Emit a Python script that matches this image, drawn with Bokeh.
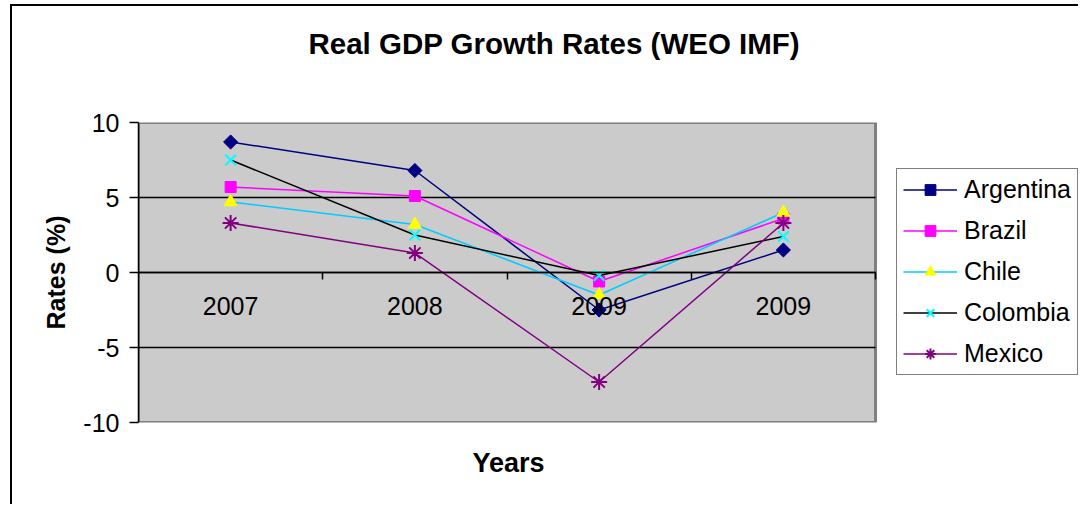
from bokeh.plotting import figure
from bokeh.models import (Range1d, FixedTicker, LinearAxis, Legend, LegendItem,
                          Title, ColumnDataSource)
from bokeh.embed import file_html
from bokeh.resources import INLINE

# ---------------- data ----------------
title_text = "Real GDP Growth Rates (WEO IMF)"
x_title = "Years"
y_title = "Rates (%)"
years = ["2007", "2008", "2009", "2009"]
argentina = [8.7, 6.8, -2.5, 1.5]
brazil = [5.7, 5.1, -0.6, 3.6]
chile = [4.7, 3.2, -1.5, 4.0]
colombia = [7.5, 2.5, -0.2, 2.4]
mexico = [3.3, 1.3, -7.3, 3.3]
y_ticks = [-10, -5, 0, 5, 10]
y_min, y_max = -10, 10

series = [
    # name, values, line colour, marker, fill, marker line, size, marker lw, angle
    ("Argentina", argentina, "#000080", "square", "#000080", "#000080", 10, 1, 0.785398),
    ("Brazil", brazil, "#FF00FF", "square", "#FF00FF", "#FF00FF", 11, 1, 0),
    ("Chile", chile, "#00CCFF", "triangle", "#FFFF00", "#FFFF00", 13, 1, 0),
    ("Colombia", colombia, "#000000", "x", None, "#00FFFF", 15, 2, 0),
    ("Mexico", mexico, "#800080", "asterisk", None, "#800080", 16, 2, 0),
]

n = len(years)
x_pos = [i + 0.5 for i in range(n)]
bounds = [i + 1 for i in range(n)]

FONT = "Liberation Sans"

# frame spans from the y axis to the right edge; the grey plot area is 737 px wide
FRAME_W, AREA_W = 942, 737
x_end = n * FRAME_W / AREA_W

p = figure(width=1068, height=500, output_backend="svg", toolbar_location=None,
           x_range=Range1d(0, x_end), y_range=Range1d(y_min, y_max),
           x_axis_location=None,
           min_border_left=126, min_border_right=0, min_border_top=116,
           min_border_bottom=84)
p.margin = (4, 0, 0, 10)
p.styles = {"border-top": "2px solid black", "border-left": "2px solid black"}

p.background_fill_color = "white"
p.border_fill_color = "white"
p.outline_line_color = None

# grey plot area
p.quad(left=0, right=n, bottom=y_min, top=y_max, fill_color="#CBCBCB",
       line_color="#808080", line_width=3, level="image")

# y axis
p.yaxis.bounds = (y_min, y_max)
p.yaxis.ticker = FixedTicker(ticks=y_ticks)
p.yaxis.major_label_overrides = {t: str(t) for t in y_ticks}
p.yaxis.axis_line_color = "black"
p.yaxis.axis_line_width = 1.5
p.yaxis.major_tick_line_color = "black"
p.yaxis.major_tick_line_width = 1.5
p.yaxis.major_tick_out = 9
p.yaxis.major_tick_in = 0
p.yaxis.minor_tick_line_color = None
p.yaxis.major_label_standoff = 10
p.yaxis.major_label_text_font = FONT
p.yaxis.major_label_text_font_size = "25px"
p.yaxis.major_label_text_color = "black"
p.yaxis.axis_label = y_title
p.yaxis.axis_label_text_font = FONT
p.yaxis.axis_label_text_font_size = "25px"
p.yaxis.axis_label_text_font_style = "bold"
p.yaxis.axis_label_text_color = "black"
p.yaxis.axis_label_standoff = 10

# grid: inner lines only, limited to the plot area
p.xgrid.grid_line_color = None
grid = p.ygrid[0]
grid.ticker = FixedTicker(ticks=y_ticks[1:-1])
if "cross_bounds" in grid.properties():
    grid.cross_bounds = (0, n)
    grid.grid_line_color = "black"
    grid.grid_line_width = 1.5
else:
    grid.grid_line_color = None
    gy = y_ticks[1:-1]
    p.segment(x0=[0] * len(gy), x1=[n] * len(gy), y0=gy, y1=gy,
              line_color="black", line_width=1.5, level="underlay")

# "Years" title below the plot area (added first: closest to the frame)
p.add_layout(Title(text=x_title, align="left", offset=334, text_font=FONT,
                   text_font_size="27px", text_font_style="bold",
                   text_color="black", standoff=46, vertical_align="bottom"),
             "below")

# category tick marks on the zero line
tick_axis = LinearAxis(fixed_location=0, bounds=(0, n), ticker=FixedTicker(ticks=bounds),
                       axis_line_color="black", axis_line_width=1.5,
                       major_tick_line_color="black", major_tick_line_width=1.5,
                       major_tick_out=7, major_tick_in=0,
                       minor_tick_line_color=None, major_label_text_color=None)
p.add_layout(tick_axis, "below")

# category labels on the zero line
label_axis = LinearAxis(fixed_location=0, ticker=FixedTicker(ticks=x_pos),
                        major_label_overrides={x: y for x, y in zip(x_pos, years)},
                        axis_line_color=None, major_tick_line_color=None,
                        minor_tick_line_color=None, major_tick_out=0, major_tick_in=0,
                        major_label_standoff=24, major_label_text_font=FONT,
                        major_label_text_font_size="25px",
                        major_label_text_color="black")
p.add_layout(label_axis, "below")

items = []
for name, vals, lc, marker, fc, mc, size, mlw, ang in series:
    src = ColumnDataSource(dict(x=x_pos, y=vals))
    ln = p.line("x", "y", source=src, line_color=lc, line_width=1.5)
    sc = p.scatter("x", "y", source=src, marker=marker, size=size, angle=ang,
                   fill_color=fc, line_color=mc, line_width=mlw)
    items.append(LegendItem(label=name, renderers=[ln, sc]))

legend = Legend(items=items, location=(758, 47), orientation="vertical",
                label_text_font=FONT, label_text_font_size="25px",
                label_text_color="black", glyph_width=54, glyph_height=27,
                label_height=27, label_standoff=7, spacing=12, padding=6,
                margin=0, border_line_color="black", border_line_width=1.5,
                background_fill_color="white", background_fill_alpha=1)
p.add_layout(legend)

# spacer (closest to frame) then the chart title above it
p.add_layout(Title(text=" ", text_font_size="1px", standoff=60), "above")
p.add_layout(Title(text=title_text, align="left", offset=170, text_font=FONT,
                   text_font_size="29.5px", text_font_style="bold",
                   text_color="black", standoff=0, vertical_align="bottom"),
             "above")

open("out.html", "w").write(file_html(p, INLINE))
